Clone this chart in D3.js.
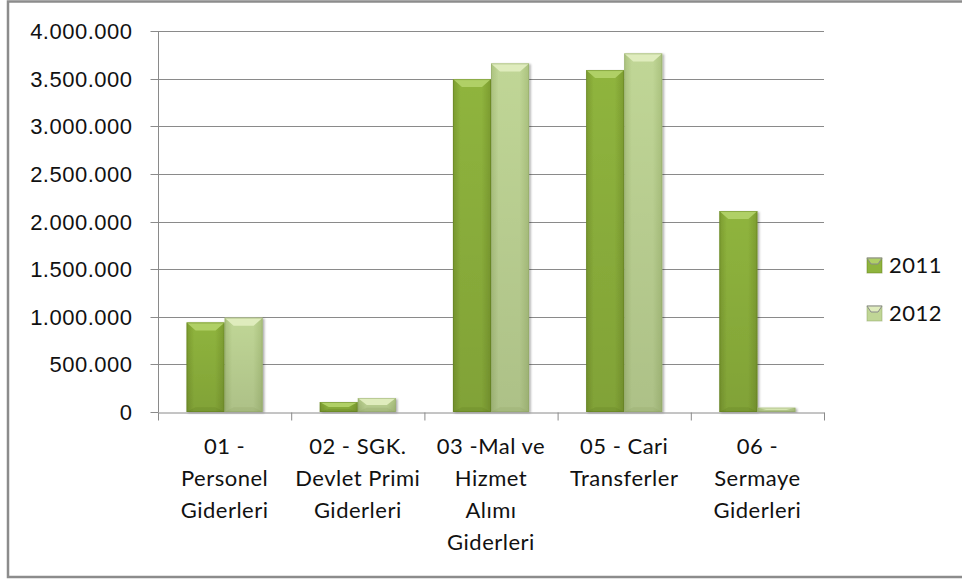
<!DOCTYPE html>
<html>
  <head>
    <meta charset="utf-8">
    <title>Giderler 2011 - 2012</title>
    <script src="https://d3js.org/d3.v7.min.js"></script>
    <style>
      body { margin: 0; background: #fff; }
      svg { display: block; font-family: Lato, "Open Sans", sans-serif; }
      .axis text { font-size: 22px; fill: #111; letter-spacing: 0.5px; }
      .axis path, .axis line { stroke: #8a8a8a; }
      .grid line { stroke: #8a8a8a; }
    </style>
  </head>
  <body>
    <svg id="chart" width="962" height="581">
      <defs>
        <filter id="shadow" x="-20%" y="-20%" width="140%" height="140%">
          <feDropShadow dx="1.5" dy="1" stdDeviation="1.2" flood-color="#000" flood-opacity="0.35"></feDropShadow>
        </filter>
      </defs>
    </svg>
    <script>
      // chart data
      const categories = ["01", "02", "03", "05", "06"];
      const categoryLines = [
        ["01 -", "Personel", "Giderleri"],
        ["02 - SGK.", "Devlet Primi", "Giderleri"],
        ["03 -Mal ve", "Hizmet", "Alımı", "Giderleri"],
        ["05 - Cari", "Transferler"],
        ["06 -", "Sermaye", "Giderleri"]
      ];
      const years = ["2011", "2012"];
      const values2011 = [940000, 105000, 3495000, 3590000, 2110000];
      const values2012 = [990000, 147000, 3660000, 3765000, 45000];
      const yTicks = [0, 500000, 1000000, 1500000, 2000000, 2500000, 3000000, 3500000, 4000000];

      // colours per year: body centre, body edge, top bevel, shading
      const palette = {
        "2011": { mid: "#8fb43d", edge: "#7c9c30", light: "#b0d066", dark: "#5f7d1e" },
        "2012": { mid: "#c0d696", edge: "#abc27e", light: "#dfecbd", dark: "#8ea463" }
      };

      const margin = { left: 158, right: 824, top: 31, bottom: 412 };
      const chart = d3.select("#chart");
      const defs = chart.select("defs");

      // frame
      chart.append("rect")
        .attr("x", 8)
        .attr("y", 1.5)
        .attr("width", 970)
        .attr("height", 575.5)
        .attr("fill", "none")
        .attr("stroke", "#8c8c8c")
        .attr("stroke-width", 2.5);

      const fmt = d3.formatLocale({ decimal: ",", thousands: ".", grouping: [3], currency: ["", ""] }).format(",d");

      const x0 = d3.scaleBand()
        .domain(categories)
        .range([margin.left, margin.right])
        .paddingInner(1.5 / 3.5)
        .paddingOuter(0.75 / 3.5);
      const x1 = d3.scaleBand()
        .domain(years)
        .range([0, x0.bandwidth()]);
      const xEdge = d3.scaleLinear()
        .domain([0, categories.length])
        .range([margin.left, margin.right]);
      const y = d3.scaleLinear()
        .domain([0, 4000000])
        .range([margin.bottom, margin.top]);

      // gridlines
      chart.append("g")
        .attr("class", "grid")
        .selectAll("line")
          .data(yTicks.slice(1))
        .enter().append("line")
          .attr("x1", margin.left)
          .attr("x2", margin.right)
          .attr("y1", d => Math.round(y(d)) + 0.5)
          .attr("y2", d => Math.round(y(d)) + 0.5);

      // gradients: horizontal (darker edges) and vertical shade
      years.forEach(yr => {
        const c = palette[yr];
        const g = defs.append("linearGradient")
          .attr("id", "body" + yr)
          .attr("x1", 0).attr("x2", 1).attr("y1", 0).attr("y2", 0);
        g.append("stop").attr("offset", "0%").attr("stop-color", c.edge);
        g.append("stop").attr("offset", "20%").attr("stop-color", c.mid);
        g.append("stop").attr("offset", "75%").attr("stop-color", c.mid);
        g.append("stop").attr("offset", "100%").attr("stop-color", c.edge);
      });
      const shade = defs.append("linearGradient")
        .attr("id", "shade")
        .attr("x1", 0).attr("x2", 0).attr("y1", 0).attr("y2", 1);
      shade.append("stop").attr("offset", "0%").attr("stop-color", "#000").attr("stop-opacity", 0);
      shade.append("stop").attr("offset", "100%").attr("stop-color", "#000").attr("stop-opacity", 0.1);

      const barData = [];
      years.forEach((yr, k) => {
        (k === 0 ? values2011 : values2012).forEach((v, i) => {
          barData.push({ year: yr, cat: categories[i], value: v });
        });
      });

      const bars = chart.append("g")
        .selectAll("g")
          .data(barData)
        .enter().append("g")
          .attr("filter", "url(#shadow)");

      bars.each(function(d) {
        const g = d3.select(this);
        const c = palette[d.year];
        const bx = x0(d.cat) + x1(d.year);
        const bw = x1.bandwidth();
        const top = y(d.value);
        const bot = y(0);
        const h = bot - top;
        const b = Math.min(8, h / 2);
        const s = Math.min(9, bw / 4);
        g.append("rect")
          .attr("x", bx).attr("y", top)
          .attr("width", bw).attr("height", h)
          .attr("fill", "url(#body" + d.year + ")");
        g.append("rect")
          .attr("x", bx).attr("y", top)
          .attr("width", bw).attr("height", h)
          .attr("fill", "url(#shade)");
        // bottom bevel
        g.append("path")
          .attr("d", `M${bx},${bot} L${bx + s},${bot - b * 0.6} L${bx + bw - s},${bot - b * 0.6} L${bx + bw},${bot} Z`)
          .attr("fill", c.dark).attr("opacity", 0.25);
        // top bevel
        g.append("path")
          .attr("d", `M${bx},${top} L${bx + bw},${top} L${bx + bw - s},${top + b} L${bx + s},${top + b} Z`)
          .attr("fill", c.light);
        g.append("rect")
          .attr("x", bx + 0.5).attr("y", top + 0.5)
          .attr("width", bw - 1).attr("height", Math.max(0, h - 1))
          .attr("fill", "none")
          .attr("stroke", c.dark).attr("stroke-opacity", 0.45);
      });

      // y axis
      chart.append("g")
        .attr("class", "axis")
        .attr("transform", "translate(" + (margin.left + 0.5) + ",0)")
        .call(d3.axisLeft(y)
          .tickValues(yTicks)
          .tickSize(8)
          .tickSizeOuter(0)
          .tickPadding(18)
          .tickFormat(fmt))
        .call(g => g.selectAll(".tick").attr("transform", d => "translate(0," + (Math.round(y(d)) + 0.5) + ")"))
        .call(g => g.select(".domain").attr("d", "M0," + margin.top + "V" + margin.bottom));

      // x axis
      chart.append("g")
        .attr("class", "axis")
        .attr("transform", "translate(0," + (margin.bottom + 0.5) + ")")
        .call(d3.axisBottom(xEdge)
          .tickValues(d3.range(categories.length + 1))
          .tickSize(8)
          .tickSizeOuter(0)
          .tickFormat(""));

      const labels = chart.append("g")
        .attr("class", "axis")
        .selectAll("text")
          .data(categoryLines)
        .enter().append("text")
          .attr("text-anchor", "middle")
          .attr("x", (d, i) => x0(categories[i]) + x0.bandwidth() / 2)
          .attr("y", margin.bottom + 42);
      labels.selectAll("tspan")
          .data(d => d)
        .enter().append("tspan")
          .attr("x", function() { return this.parentNode.getAttribute("x"); })
          .attr("dy", (d, i) => i === 0 ? 0 : 32)
          .text(d => d);

      // legend
      const legend = chart.append("g")
        .attr("class", "axis")
        .selectAll("g")
          .data(years)
        .enter().append("g")
          .attr("transform", (d, i) => "translate(867," + (265 + i * 48) + ")");
      legend.append("rect")
        .attr("x", 0).attr("y", -7)
        .attr("width", 15).attr("height", 15)
        .attr("fill", d => palette[d].mid)
        .attr("stroke", d => palette[d].dark)
        .attr("stroke-opacity", 0.5);
      legend.append("path")
        .attr("d", "M0,-7 L15,-7 L11,-1 L4,-1 Z")
        .attr("fill", d => palette[d].light);
      legend.append("text")
        .attr("x", 22)
        .attr("dy", "0.36em")
        .text(d => d);
    </script>
  </body>
</html>
